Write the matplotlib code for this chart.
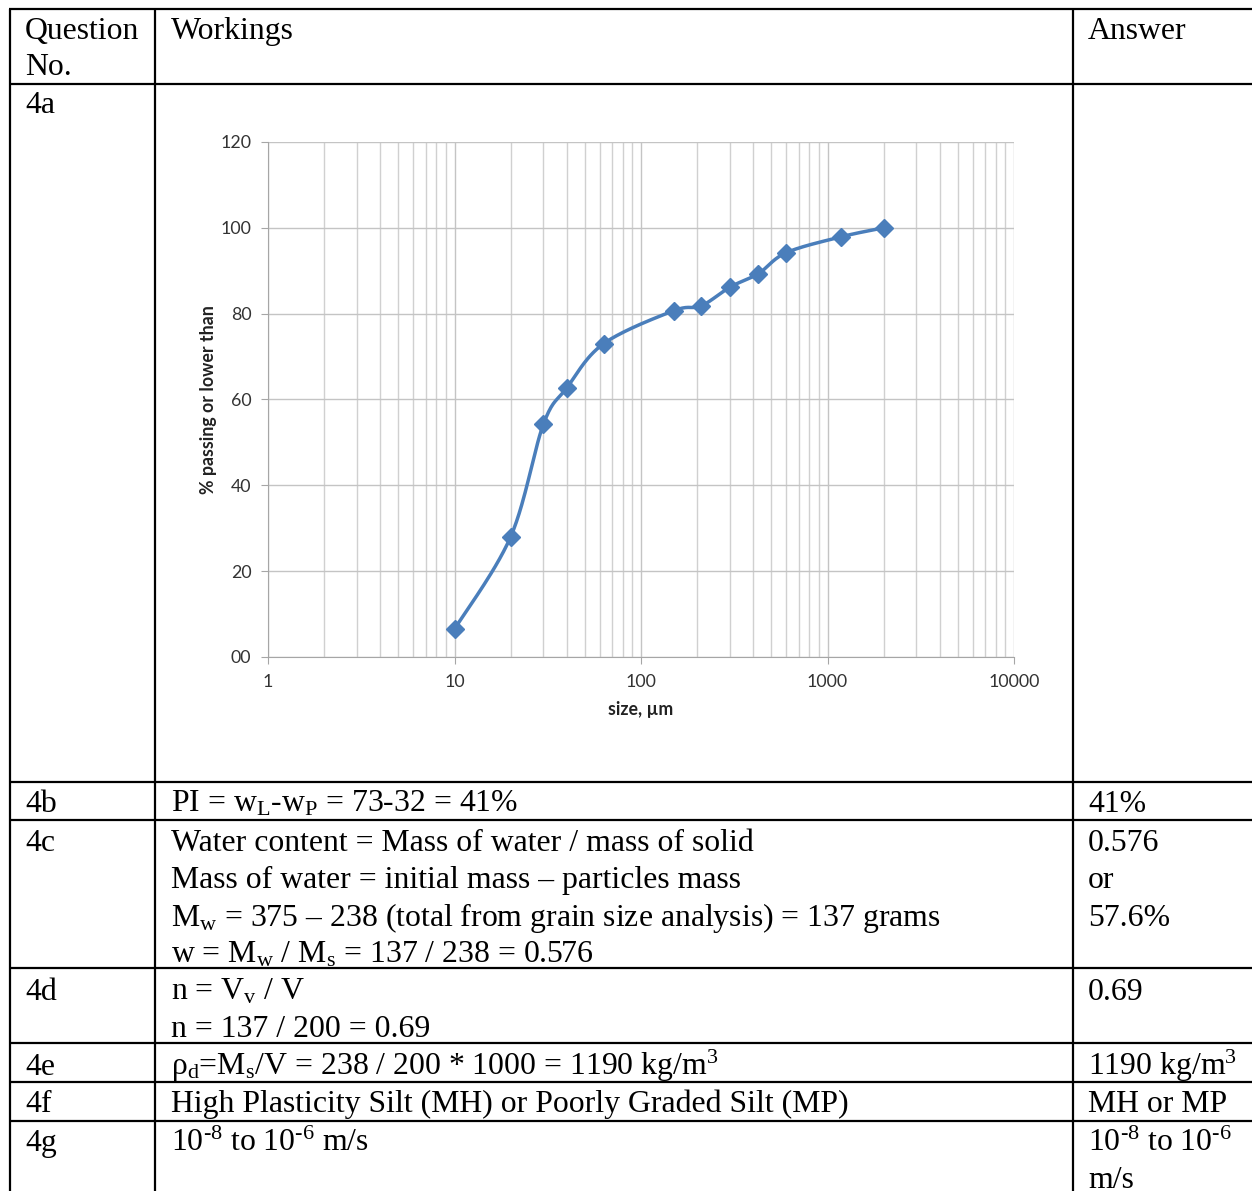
import numpy as np
import matplotlib
matplotlib.use("Agg")
from matplotlib import pyplot as plt
from matplotlib.ticker import FixedLocator, LogLocator, NullFormatter

plt.rcParams['font.family'] = ['Liberation Serif', 'DejaVu Serif']
plt.rcParams['mathtext.fontset'] = 'custom'
plt.rcParams['mathtext.rm'] = 'Liberation Serif'
plt.rcParams['mathtext.it'] = 'Liberation Serif:italic'
plt.rcParams['mathtext.bf'] = 'Liberation Serif:bold'

# grain size analysis (size in um, % passing)
sizes = [10, 20, 30, 40, 63, 150, 210, 300, 425, 600, 1180, 2000]
passing = [6.5, 28, 54.3, 62.7, 73, 80.7, 81.8, 86.2, 89.3, 94.2, 97.9, 100]

y_ticks = [0, 20, 40, 60, 80, 100, 120]
y_tick_labels = ['00', '20', '40', '60', '80', '100', '120']
x_ticks = [1, 10, 100, 1000, 10000]
x_tick_labels = ['1', '10', '100', '1000', '10000']

headers = [['Question', 'No.'], ['Workings'], ['Answer']]
questions = ['4a', '4b', '4c', '4d', '4e', '4f', '4g']
workings = [
    [],
    [r'PI = w$_\mathrm{L}$-w$_\mathrm{P}$ = 73-32 = 41%'],
    ['Water content = Mass of water / mass of solid',
     'Mass of water = initial mass \u2013 particles mass',
     'M$_\\mathrm{w}$ = 375 \u2013 238 (total from grain size analysis) = 137 grams',
     r'w = M$_\mathrm{w}$ / M$_\mathrm{s}$ = 137 / 238 = 0.576'],
    [r'n = V$_\mathrm{v}$ / V', 'n = 137 / 200 = 0.69'],
    ['\u03c1$_\\mathrm{d}$=M$_\\mathrm{s}$/V = 238 / 200 * 1000 = 1190 kg/m$^3$'],
    ['High Plasticity Silt (MH) or Poorly Graded Silt (MP)'],
    ['10$^{\u20108}$ to 10$^{\u20106}$ m/s'],
]
answers = [
    [],
    ['41%'],
    ['0.576', 'or', '57.6%'],
    ['0.69'],
    [r'1190 kg/m$^3$'],
    ['MH or MP'],
    ['10$^{\u20108}$ to 10$^{\u20106}$', 'm/s'],
]

# table layout (pixels)
W, H = 1252, 1191
row_lines = [9, 84, 782, 820, 968, 1043, 1082, 1121]
col_lines = [10, 155, 1073]
text_x = [25, 171, 1088]
header_base = [39, 75]
row_base = [113, 812, 851, 1000, 1075, 1112, 1151]
line_gap = 37.3
fs = 22.9


def smooth(xs, ys, n=30):
    # bezier smoothing like the spreadsheet "smoothed line"
    P = np.column_stack([np.log10(xs), ys])
    P = np.vstack([P[0], P, P[-1]])
    out = []
    t = np.linspace(0, 1, n)[:, None]
    for i in range(1, len(P) - 2):
        p0, p1, p2, p3 = P[i - 1], P[i], P[i + 1], P[i + 2]
        c1 = p1 + (p2 - p0) / 6
        c2 = p2 - (p3 - p1) / 6
        out.append((1 - t) ** 3 * p1 + 3 * (1 - t) ** 2 * t * c1
                   + 3 * (1 - t) * t ** 2 * c2 + t ** 3 * p2)
    pts = np.vstack(out)
    return 10 ** pts[:, 0], pts[:, 1]


fig = plt.figure(figsize=(W / 100, H / 100), dpi=100)

# table
tab = fig.add_axes([0, 0, 1, 1])
tab.set_xlim(0, W)
tab.set_ylim(H, 0)
tab.axis('off')
for y in row_lines:
    tab.plot([col_lines[0] - 1, W], [y, y], color='black', lw=1.6, solid_capstyle='butt')
for x in col_lines:
    tab.plot([x, x], [row_lines[0], H], color='black', lw=1.6, solid_capstyle='butt')

# header row
for c, lines in enumerate(headers):
    for k, s in enumerate(lines):
        tab.text(text_x[c], header_base[k], s, fontsize=fs, va='baseline')

# body rows
for r, q in enumerate(questions):
    base = row_base[r]
    tab.text(text_x[0], base, q, fontsize=fs, va='baseline')
    for k, s in enumerate(workings[r]):
        tab.text(text_x[1], base + k * line_gap, s, fontsize=fs, va='baseline')
    for k, s in enumerate(answers[r]):
        tab.text(text_x[2], base + k * line_gap, s, fontsize=fs, va='baseline')

# chart
ax = fig.add_axes([268 / W, 1 - 657 / H, 746 / W, 515 / H])
ax.set_xscale('log')
ax.set_xlim(1, 10000)
ax.set_ylim(0, 120)

sx, sy = smooth(sizes, passing)
ax.plot(sx, sy, color='#4a7ebb', lw=2.5, zorder=3)
ax.plot(sizes, passing, ls='none', marker='D', ms=9, color='#4a7ebb', zorder=4)

ax.xaxis.set_major_locator(FixedLocator(x_ticks))
ax.xaxis.set_minor_locator(LogLocator(base=10, subs=np.arange(2, 10)))
ax.xaxis.set_minor_formatter(NullFormatter())
ax.set_xticklabels(x_tick_labels)
ax.set_yticks(y_ticks)
ax.set_yticklabels(y_tick_labels)
ax.grid(which='major', axis='both', color='#c4c4c4', lw=1.0)
ax.grid(which='minor', axis='x', color='#d0d0d0', lw=1.0)
ax.set_axisbelow(True)
for side in ['top', 'right']:
    ax.spines[side].set_visible(False)
for side in ['left', 'bottom']:
    ax.spines[side].set_color('#a6a6a6')
ax.tick_params(which='major', length=5, color='#a6a6a6', labelcolor='#333333',
               labelsize=12.8, labelfontfamily='Lato', pad=7)
ax.tick_params(which='minor', length=0)

ax.set_xlabel('size, \u00b5m', fontsize=12.8, fontweight='bold', family='Lato', color='#222222')
ax.xaxis.set_label_coords(0.5, -0.085)
ax.set_ylabel('% passing or lower than', fontsize=12.8, fontweight='bold', family='Lato', color='#222222')
ax.yaxis.set_label_coords(-0.068, 0.5)

fig.savefig('out.png', dpi=100)
